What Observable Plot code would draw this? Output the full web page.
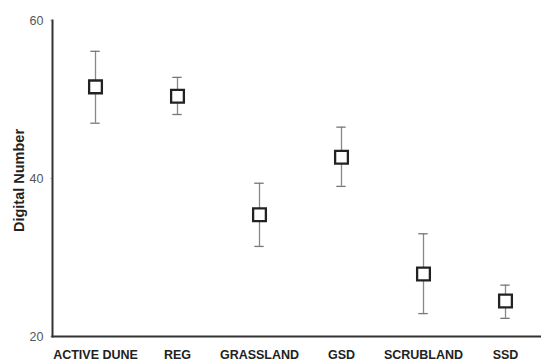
<!DOCTYPE html>
<html>
<head>
<meta charset="utf-8">
<script src="https://cdn.jsdelivr.net/npm/d3@7"></script>
<script src="https://cdn.jsdelivr.net/npm/@observablehq/plot@0.6"></script>
<style>
  html, body { margin: 0; padding: 0; background: #fff; }
</style>
</head>
<body>
<div id="chart"></div>
<script>
const categories = ["ACTIVE DUNE", "REG", "GRASSLAND", "GSD", "SCRUBLAND", "SSD"];
const means = [51.6, 50.4, 35.4, 42.7, 27.9, 24.5];
const upper = [56.1, 52.8, 39.4, 46.5, 33.0, 26.5];
const lower = [47.0, 48.1, 31.4, 39.0, 22.9, 22.3];
const yTicks = [20, 40, 60];
const yLabel = "Digital Number";

const data = categories.map((c, i) => ({cat: c, mean: means[i], hi: upper[i], lo: lower[i]}));

const chart = Plot.plot({
  width: 541,
  height: 362,
  marginLeft: 52,
  marginRight: 0,
  marginTop: 20,
  marginBottom: 26,
  style: {fontFamily: "'Liberation Sans', Arial, sans-serif", background: "#fff"},
  x: {domain: categories, range: [52, 548], padding: 0},
  y: {domain: [20, 60], ticks: yTicks},
  marks: [
    Plot.axisY({ticks: yTicks, tickSize: 2, tickPadding: 7, fontSize: 12.5, fill: "#555", stroke: "#ccc", label: null}),
    Plot.axisX({tickSize: 0, tickPadding: 14, fontSize: 12.5, fontWeight: "bold", fill: "#222", label: null}),
    Plot.text([yLabel], {frameAnchor: "left", textAnchor: "middle", rotate: -90, dx: -33, dy: 2, fontWeight: "bold", fontSize: 14.5, fill: "#222"}),
    Plot.ruleX(data, {x: "cat", y1: "lo", y2: "hi", stroke: "#888", strokeWidth: 1.3}),
    Plot.tickY(data, {x: "cat", y: "hi", stroke: "#777", strokeWidth: 1.3, insetLeft: 36.3, insetRight: 36.3}),
    Plot.tickY(data, {x: "cat", y: "lo", stroke: "#777", strokeWidth: 1.3, insetLeft: 36.3, insetRight: 36.3}),
    Plot.dot(data, {x: "cat", y: "mean", symbol: "square", r: 7.2, fill: "#fff", stroke: "#222", strokeWidth: 2.3}),
    Plot.frame({anchor: "left", stroke: "#333", strokeWidth: 2}),
    Plot.frame({anchor: "bottom", stroke: "#333", strokeWidth: 2})
  ]
});
document.getElementById("chart").appendChild(chart);
</script>
</body>
</html>
